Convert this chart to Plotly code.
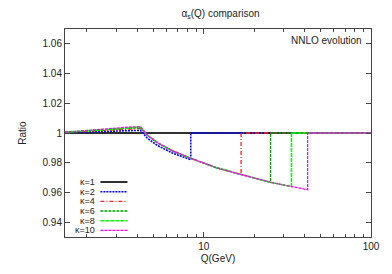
import plotly.graph_objects as go

# ---- data ----
kappas = [1, 2, 4, 6, 8, 10]
m_b = 4.18
q_max = 100.0
q_min = 1.48

q_pre = [1.48, 2.0, 2.5, 3.0, 3.5, 4.18]
pre_k2 = [1.0003, 1.0008, 1.0011, 1.0014, 1.0016, 1.0018]
pre_k4 = [1.0004, 1.0012, 1.0018, 1.0023, 1.0027, 1.0030]
pre_k6 = [1.0005, 1.0014, 1.0021, 1.0027, 1.0032, 1.0036]
pre_k8 = [1.0005, 1.0016, 1.0024, 1.0031, 1.0036, 1.0040]
pre_k10 = [1.0005, 1.0018, 1.0027, 1.0034, 1.0039, 1.0043]

q_fall = [4.6, 5.3, 6.5, 8.36, 12.0, 16.72, 25.08, 33.44, 41.8]
fall_k2 = [0.9965, 0.9915, 0.9865, 0.9820]
fall_common = [0.9985, 0.9934, 0.9880, 0.9830, 0.9765, 0.9720, 0.9668, 0.9640, 0.9618]

y_tick_vals = [0.94, 0.96, 0.98, 1.0, 1.02, 1.04, 1.06]
y_tick_labels = ["0.94", "0.96", "0.98", "1", "1.02", "1.04", "1.06"]
x_tick_vals = [10, 100]
x_tick_labels = ["10", "100"]
x_minor_vals = [2, 3, 4, 5, 6, 7, 8, 9, 20, 30, 40, 50, 60, 70, 80, 90]

pre_by_k = {2: pre_k2, 4: pre_k4, 6: pre_k6, 8: pre_k8, 10: pre_k10}

# ---- styles ----
colors = {1: "#303030", 2: "#0000ff", 4: "#ff2020", 6: "#00a000", 8: "#00ff00", 10: "#ff00ff"}
dashes = {1: "solid", 2: "2px,1px", 4: "4px,2px,1px,2px", 6: "3px,1px", 8: "4px,1px", 10: "3px,1px"}
widths = {1: 2.0, 2: 1.6, 4: 1.3, 6: 1.3, 8: 1.6, 10: 1.3}

FONT = "Liberation Sans, Arial, sans-serif"
TXT = "#222222"
FS = 10

fig = go.Figure()

for k in kappas:
    if k == 1:
        xs = [q_min, q_max]
        ys = [1.0, 1.0]
    else:
        thr = k * m_b
        fall = fall_k2 if k == 2 else fall_common
        xs = list(q_pre)
        ys = list(pre_by_k[k])
        for q, r in zip(q_fall, fall):
            if q <= thr + 1e-9:
                xs.append(q)
                ys.append(r)
        xs += [thr, q_max]
        ys += [1.0, 1.0]
    fig.add_trace(go.Scatter(
        x=xs, y=ys, mode="lines", name=f"κ={k}",
        line=dict(color=colors[k], dash=dashes[k], width=widths[k]),
        showlegend=False, hoverinfo="skip",
    ))

# manual legend (label on the left, sample line on the right)
L, R, T, B = 65, 16, 29, 32
W, H = 392, 274
pw, ph = W - L - R, H - T - B
def px2x(px):
    return (px - L) / pw
def py2y(py):
    return (H - B - py) / ph

for i, k in enumerate(kappas):
    yy = py2y(185.7 + 9.9 * i)
    fig.add_annotation(x=px2x(96), y=yy, xref="paper", yref="paper",
                       text=f"κ={k}", showarrow=False, xanchor="right", yanchor="middle",
                       borderpad=0, valign="middle",
                       font=dict(family=FONT, size=9, color=TXT))
    fig.add_shape(type="line", xref="paper", yref="paper",
                  x0=px2x(101), x1=px2x(128.5), y0=yy, y1=yy,
                  line=dict(color=colors[k], dash=dashes[k], width=widths[k]))

fig.add_annotation(x=px2x(369), y=py2y(40.5), xref="paper", yref="paper",
                   text="NNLO evolution", showarrow=False, xanchor="right", yanchor="middle",
                   font=dict(family=FONT, size=FS, color=TXT))

axis_common = dict(
    showgrid=False, zeroline=False, showline=True, linecolor="#444444", linewidth=1,
    mirror="allticks", ticks="inside", ticklen=5, tickcolor="#444444",
    tickfont=dict(family=FONT, size=FS, color=TXT),
)

fig.update_layout(
    width=W, height=H,
    margin=dict(l=L, r=R, t=T, b=B),
    paper_bgcolor="white", plot_bgcolor="white",
    title=dict(text="α<sub>s</sub>(Q) comparison", x=220.5 / W, xanchor="center",
               y=1 - 13 / H, yanchor="middle", font=dict(family=FONT, size=FS, color=TXT)),
    xaxis=dict(type="log", range=[0.1703, 2.0], tickmode="array",
               tickvals=x_tick_vals, ticktext=x_tick_labels,
               minor=dict(ticks="inside", ticklen=3, tickcolor="#444444",
                          tickmode="array", tickvals=x_minor_vals, showgrid=False),
               title=dict(text="Q(GeV)", font=dict(family=FONT, size=FS, color=TXT), standoff=3),
               **axis_common),
    yaxis=dict(range=[0.93, 1.07], tickmode="array", tickvals=y_tick_vals, ticktext=y_tick_labels,
               title=dict(text="Ratio", font=dict(family=FONT, size=FS, color=TXT), standoff=14),
               **axis_common),
    showlegend=False,
)

fig.write_html("out.html", config={"displayModeBar": False},
               post_script="document.body.style.margin='0';document.body.style.padding='0';")
